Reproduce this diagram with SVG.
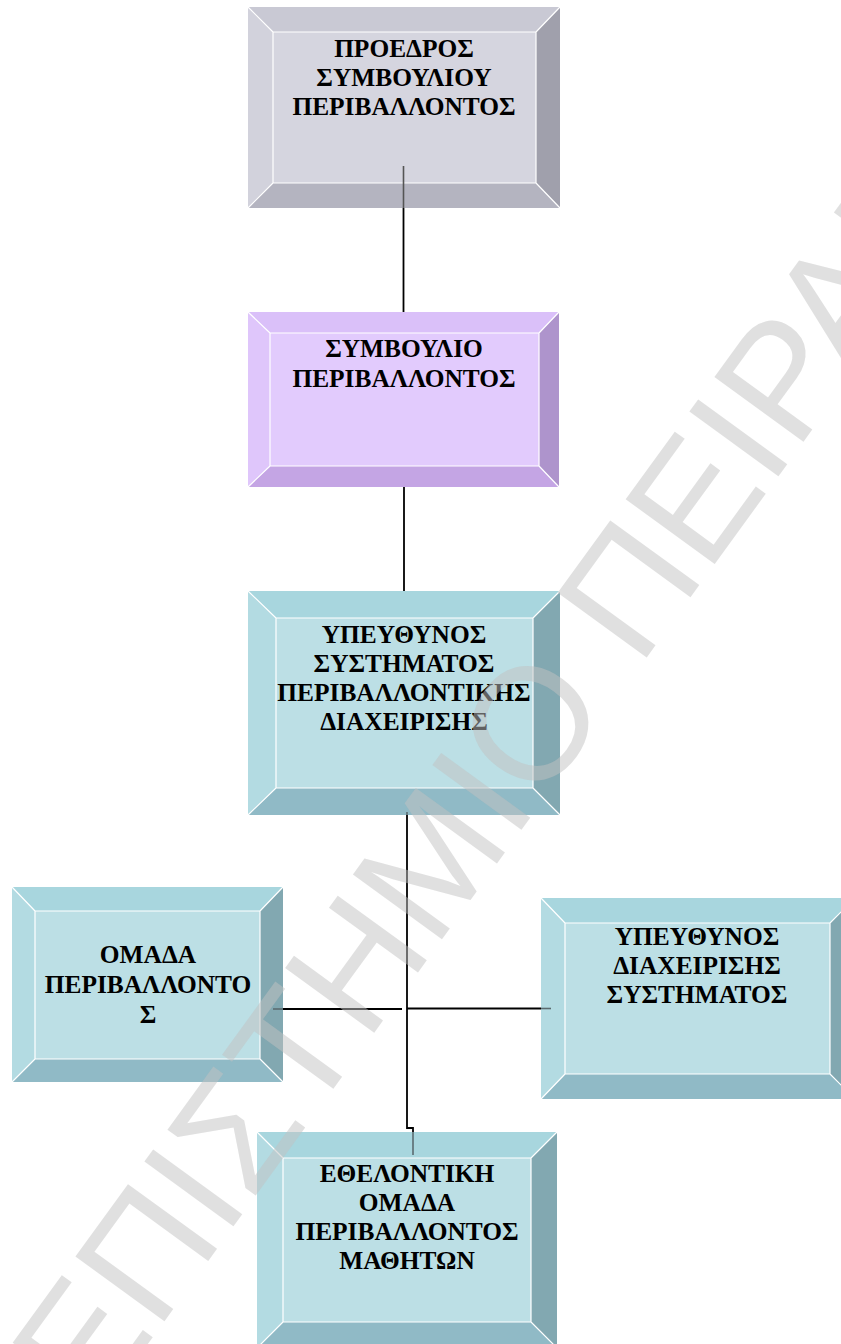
<svg xmlns="http://www.w3.org/2000/svg" width="841" height="1344" viewBox="0 0 841 1344">
<style>
.lbl{font-family:"Liberation Serif","Times New Roman",serif;font-weight:bold;font-size:25.4px;fill:#000;text-anchor:middle}
.edge{stroke:#fff;stroke-width:1.2;fill:none}
.gray .face{fill:#d5d5df}.gray .top{fill:#c9c9d4}.gray .left{fill:#d2d2dc}.gray .right{fill:#a0a0ac}.gray .bottom{fill:#b4b4c0}
.purple .face{fill:#e2cbfd}.purple .top{fill:#dac0f9}.purple .left{fill:#dfc6fb}.purple .right{fill:#ae94cc}.purple .bottom{fill:#c4a5e4}
.teal .face{fill:#bcdfe5}.teal .top{fill:#a8d6de}.teal .left{fill:#b3dbe2}.teal .right{fill:#82a8b1}.teal .bottom{fill:#90bac6}
.ln{stroke:#000;stroke-width:1.8;fill:none}
.lnin{stroke:#5b6b70;stroke-width:1.6;fill:none}
.wm{font-family:"Liberation Sans",Arial,sans-serif;font-size:160px;fill:#c2c2c2;fill-opacity:0.5}
</style>

<g id="connectors">
  <line class="ln" x1="403.5" y1="208" x2="403.5" y2="312"/>
  <line class="ln" x1="404" y1="487" x2="404" y2="591"/>
  <polyline class="ln" points="407,815 407,1128 413,1128 413,1132"/>
  <line class="ln" x1="283" y1="1009" x2="402" y2="1009"/>
  <line class="ln" x1="407" y1="1008.5" x2="541" y2="1008.5"/>
</g>

<g id="n1" class="gray">
  <polygon class="top" points="248,7 560,7 536,32 273,32"/>
  <polygon class="left" points="248,7 273,32 273,183 248,208"/>
  <polygon class="right" points="560,7 536,32 536,183 560,208"/>
  <polygon class="bottom" points="248,208 560,208 536,183 273,183"/>
  <rect class="face" x="273" y="32" width="263" height="151"/>
  <path class="edge" d="M248,7 L273,32 M560,7 L536,32 M248,208 L273,183 M560,208 L536,183 M273,32 H536 V183 H273 Z"/>
  <line stroke="#555" stroke-width="1.6" x1="403.5" y1="166" x2="403.5" y2="208"/>
  <text class="lbl" x="404" y="57">ΠΡΟΕΔΡΟΣ</text>
  <text class="lbl" x="404" y="86">ΣΥΜΒΟΥΛΙΟΥ</text>
  <text class="lbl" x="404" y="115">ΠΕΡΙΒΑΛΛΟΝΤΟΣ</text>
</g>

<g id="n2" class="purple">
  <polygon class="top" points="248,312 559,312 539,333 270,333"/>
  <polygon class="left" points="248,312 270,333 270,466 248,487"/>
  <polygon class="right" points="559,312 539,333 539,466 559,487"/>
  <polygon class="bottom" points="248,487 559,487 539,466 270,466"/>
  <rect class="face" x="270" y="333" width="269" height="133"/>
  <path class="edge" d="M248,312 L270,333 M559,312 L539,333 M248,487 L270,466 M559,487 L539,466 M270,333 H539 V466 H270 Z"/>
  <text class="lbl" x="404" y="357">ΣΥΜΒΟΥΛΙΟ</text>
  <text class="lbl" x="404" y="387">ΠΕΡΙΒΑΛΛΟΝΤΟΣ</text>
</g>

<g id="n3" class="teal">
  <polygon class="top" points="248,591 560,591 533,618 276,618"/>
  <polygon class="left" points="248,591 276,618 276,788 248,815"/>
  <polygon class="right" points="560,591 533,618 533,788 560,815"/>
  <polygon class="bottom" points="248,815 560,815 533,788 276,788"/>
  <rect class="face" x="276" y="618" width="257" height="170"/>
  <path class="edge" d="M248,591 L276,618 M560,591 L533,618 M248,815 L276,788 M560,815 L533,788 M276,618 H533 V788 H276 Z"/>
  <line class="lnin" x1="407" y1="812" x2="407" y2="815"/>
  <text class="lbl" x="404" y="643">ΥΠΕΥΘΥΝΟΣ</text>
  <text class="lbl" x="404" y="672">ΣΥΣΤΗΜΑΤΟΣ</text>
  <text class="lbl" x="404" y="701">ΠΕΡΙΒΑΛΛΟΝΤΙΚΗΣ</text>
  <text class="lbl" x="404" y="730">ΔΙΑΧΕΙΡΙΣΗΣ</text>
</g>

<g id="n4" class="teal">
  <polygon class="top" points="12,887 283,887 260,911 35,911"/>
  <polygon class="left" points="12,887 35,911 35,1059 12,1082"/>
  <polygon class="right" points="283,887 260,911 260,1059 283,1082"/>
  <polygon class="bottom" points="12,1082 283,1082 260,1059 35,1059"/>
  <rect class="face" x="35" y="911" width="225" height="148"/>
  <path class="edge" d="M12,887 L35,911 M283,887 L260,911 M12,1082 L35,1059 M283,1082 L260,1059 M35,911 H260 V1059 H35 Z"/>
  <line class="lnin" x1="273" y1="1009" x2="283" y2="1009"/>
  <text class="lbl" x="148" y="963">ΟΜΑΔΑ</text>
  <text class="lbl" x="148" y="993">ΠΕΡΙΒΑΛΛΟΝΤΟ</text>
  <text class="lbl" x="148" y="1023">Σ</text>
</g>

<g id="n5" class="teal">
  <polygon class="top" points="541,898 855,898 830,923 565,923"/>
  <polygon class="left" points="541,898 565,923 565,1074 541,1099"/>
  <polygon class="right" points="855,898 830,923 830,1074 855,1099"/>
  <polygon class="bottom" points="541,1099 855,1099 830,1074 565,1074"/>
  <rect class="face" x="565" y="923" width="265" height="151"/>
  <path class="edge" d="M541,898 L565,923 M855,898 L830,923 M541,1099 L565,1074 M855,1099 L830,1074 M565,923 H830 V1074 H565 Z"/>
  <line class="lnin" x1="541" y1="1008.5" x2="551" y2="1008.5"/>
  <text class="lbl" x="697" y="945">ΥΠΕΥΘΥΝΟΣ</text>
  <text class="lbl" x="697" y="974">ΔΙΑΧΕΙΡΙΣΗΣ</text>
  <text class="lbl" x="697" y="1003">ΣΥΣΤΗΜΑΤΟΣ</text>
</g>

<g id="n6" class="teal">
  <polygon class="top" points="257,1132 557,1132 531,1158 283,1158"/>
  <polygon class="left" points="257,1132 283,1158 283,1322 257,1348"/>
  <polygon class="right" points="557,1132 531,1158 531,1322 557,1348"/>
  <polygon class="bottom" points="257,1348 557,1348 531,1322 283,1322"/>
  <rect class="face" x="283" y="1158" width="248" height="164"/>
  <path class="edge" d="M257,1132 L283,1158 M557,1132 L531,1158 M257,1348 L283,1322 M557,1348 L531,1322 M283,1158 H531 V1322 H283 Z"/>
  <line class="lnin" x1="413" y1="1132" x2="413" y2="1155"/>
  <text class="lbl" x="407" y="1182">ΕΘΕΛΟΝΤΙΚΗ</text>
  <text class="lbl" x="407" y="1211">ΟΜΑΔΑ</text>
  <text class="lbl" x="407" y="1240">ΠΕΡΙΒΑΛΛΟΝΤΟΣ</text>
  <text class="lbl" x="407" y="1269">ΜΑΘΗΤΩΝ</text>
</g>

<g id="watermark" transform="translate(639,668) rotate(-54)">
  <text class="wm" x="-46" y="0" text-anchor="end">ΠΑΝΕΠΙΣΤΗΜΙΟ</text>
  <text class="wm" x="0" y="0">ΠΕΙΡΑΙΑ</text>
</g>
</svg>
